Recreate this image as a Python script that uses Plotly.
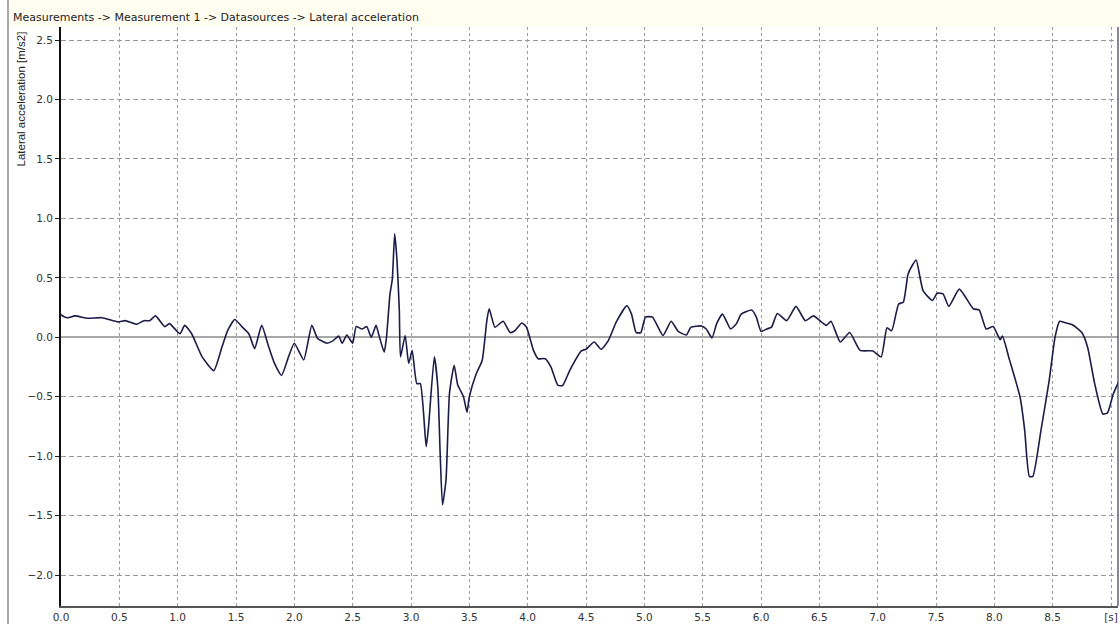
import plotly.graph_objects as go

# ---- data ----
time_s = [0.00, 0.03, 0.06, 0.12, 0.23, 0.35, 0.49, 0.55, 0.65, 0.71, 0.76, 0.81, 0.89, 0.93,
          1.02, 1.06, 1.12, 1.21, 1.31, 1.38, 1.43, 1.49, 1.55, 1.61, 1.66, 1.72, 1.78, 1.83,
          1.89, 1.95, 2.00, 2.08, 2.15, 2.20, 2.28, 2.33, 2.38, 2.41, 2.45, 2.50, 2.53, 2.58,
          2.62, 2.66, 2.70, 2.73, 2.77, 2.79, 2.82, 2.84, 2.86, 2.88, 2.90, 2.91, 2.95, 2.98,
          3.01, 3.05, 3.08, 3.13, 3.15, 3.20, 3.23, 3.25, 3.27, 3.30, 3.33, 3.37, 3.40, 3.45,
          3.48, 3.50, 3.56, 3.61, 3.65, 3.67, 3.72, 3.79, 3.85, 3.89, 3.95, 3.99, 4.05, 4.09,
          4.15, 4.20, 4.26, 4.30, 4.36, 4.46, 4.50, 4.57, 4.63, 4.69, 4.76, 4.85, 4.89, 4.93,
          4.97, 5.01, 5.07, 5.16, 5.23, 5.29, 5.36, 5.40, 5.49, 5.53, 5.58, 5.62, 5.67, 5.74,
          5.79, 5.83, 5.92, 5.96, 6.00, 6.05, 6.09, 6.14, 6.22, 6.30, 6.38, 6.45, 6.56, 6.60,
          6.68, 6.76, 6.85, 6.96, 7.03, 7.08, 7.12, 7.18, 7.22, 7.26, 7.30, 7.33, 7.39, 7.47,
          7.51, 7.56, 7.61, 7.70, 7.82, 7.87, 7.93, 7.99, 8.05, 8.07, 8.13, 8.22, 8.26, 8.30,
          8.33, 8.40, 8.47, 8.52, 8.56, 8.60, 8.67, 8.75, 8.80, 8.86, 8.93, 8.97, 9.02, 9.07]

lateral_acc = [0.19, 0.17, 0.165, 0.18, 0.16, 0.165, 0.13, 0.14, 0.11, 0.14, 0.14, 0.18, 0.09, 0.115,
               0.03, 0.10, 0.03, -0.165, -0.28, -0.08, 0.06, 0.15, 0.09, 0.03, -0.095, 0.10, -0.08, -0.22,
               -0.32, -0.165, -0.05, -0.19, 0.10, -0.01, -0.05, -0.03, 0.01, -0.05, 0.02, -0.05, 0.09, 0.07,
               0.09, 0.00, 0.10, 0.00, -0.125, 0.00, 0.365, 0.49, 0.87, 0.645, 0.225, -0.165, 0.015, -0.22,
               -0.11, -0.39, -0.39, -0.92, -0.755, -0.165, -0.42, -0.98, -1.41, -1.20, -0.47, -0.235, -0.40, -0.50,
               -0.63, -0.50, -0.305, -0.195, 0.14, 0.24, 0.085, 0.135, 0.04, 0.055, 0.12, 0.085, -0.11, -0.18,
               -0.18, -0.25, -0.405, -0.405, -0.28, -0.115, -0.10, -0.04, -0.10, -0.03, 0.13, 0.265, 0.195, 0.04,
               0.04, 0.17, 0.17, 0.015, 0.135, 0.05, 0.02, 0.085, 0.095, 0.07, -0.005, 0.115, 0.195, 0.07,
               0.115, 0.195, 0.23, 0.17, 0.05, 0.07, 0.085, 0.20, 0.14, 0.26, 0.14, 0.18, 0.10, 0.135,
               -0.04, 0.04, -0.11, -0.115, -0.165, 0.08, 0.055, 0.28, 0.295, 0.53, 0.61, 0.65, 0.39, 0.31,
               0.37, 0.365, 0.26, 0.405, 0.24, 0.23, 0.07, 0.09, -0.02, 0.01, -0.19, -0.50, -0.78, -1.17,
               -1.17, -0.78, -0.365, 0.0, 0.135, 0.125, 0.105, 0.04, -0.085, -0.39, -0.645, -0.635, -0.475, -0.365]

x_tick_vals = [0.0, 0.5, 1.0, 1.5, 2.0, 2.5, 3.0, 3.5, 4.0, 4.5, 5.0, 5.5, 6.0, 6.5, 7.0, 7.5, 8.0, 8.5, 9.0]
x_tick_text = ["0.0", "0.5", "1.0", "1.5", "2.0", "2.5", "3.0", "3.5", "4.0", "4.5", "5.0", "5.5",
               "6.0", "6.5", "7.0", "7.5", "8.0", "8.5", "[s]"]
y_tick_vals = [-2.0, -1.5, -1.0, -0.5, 0.0, 0.5, 1.0, 1.5, 2.0, 2.5]

title_text = "Measurements -> Measurement 1 -> Datasources -> Lateral acceleration"
y_title = "Lateral acceleration [m/s2]"

# ---- layout geometry (pixels) ----
W, H = 1120, 624
L, R, T, B = 61, 2, 27, 18
pw, ph = W - L - R, H - T - B


def px_x(p):
    return (p - L) / pw


def px_y(p):
    return (H - B - p) / ph


fig = go.Figure()
fig.add_trace(go.Scatter(x=time_s, y=lateral_acc, mode="lines",
                         line=dict(color="#1c1c48", width=1.6, shape="spline", smoothing=0.5),
                         hoverinfo="x+y", showlegend=False, cliponaxis=True))

tick_font = dict(family="DejaVu Sans", size=10.5, color="#333333")

fig.update_layout(
    width=W, height=H,
    margin=dict(l=L, r=R, t=T, b=B, pad=0, autoexpand=False),
    paper_bgcolor="white", plot_bgcolor="white",
    xaxis=dict(range=[0, 9.06], tickvals=x_tick_vals, ticktext=x_tick_text,
               showgrid=True, gridcolor="#9a9a9a", griddash="3px,3px", gridwidth=1,
               zeroline=False, showline=True, linecolor="#555555", linewidth=1.5,
               ticks="outside", ticklen=1, tickcolor="rgba(0,0,0,0)",
               tickfont=tick_font, fixedrange=True, automargin=False),
    yaxis=dict(range=[-2.26, 2.61], tickvals=y_tick_vals, tickformat=".1f",
               showgrid=True, gridcolor="#9a9a9a", griddash="5px,3px", gridwidth=1,
               zeroline=True, zerolinecolor="#a8a8a8", zerolinewidth=1.5,
               showline=True, linecolor="#111111", linewidth=2,
               ticks="outside", ticklen=4, tickcolor="#222222",
               tickfont=tick_font, fixedrange=True, automargin=False),
    shapes=[
        # title bar background
        dict(type="rect", xref="paper", yref="paper", x0=px_x(9), x1=px_x(W), y0=px_y(27), y1=px_y(0),
             fillcolor="#fffcf0", line=dict(width=0), layer="below"),
        # left frame line
        dict(type="line", xref="paper", yref="paper", x0=px_x(8), x1=px_x(8), y0=px_y(H), y1=px_y(0),
             line=dict(color="#a8a8a8", width=2)),
        # right plot border
        dict(type="line", xref="paper", yref="paper", x0=1, x1=1, y0=0, y1=1,
             line=dict(color="#3a3a5a", width=1.2)),
    ],
    annotations=[
        dict(text=title_text, xref="paper", yref="paper", x=px_x(11), y=px_y(17),
             xanchor="left", yanchor="middle", showarrow=False,
             font=dict(family="DejaVu Sans", size=11, color="#222222")),
        dict(text=y_title, xref="paper", yref="paper", x=px_x(20), y=px_y(30),
             xanchor="center", yanchor="top", textangle=-90, showarrow=False,
             font=dict(family="Liberation Sans", size=11.5, color="#222222")),
    ],
)

fig.write_html("out.html", config={"displayModeBar": False},
               post_script="document.body.style.margin='0';document.body.style.overflow='hidden';")
